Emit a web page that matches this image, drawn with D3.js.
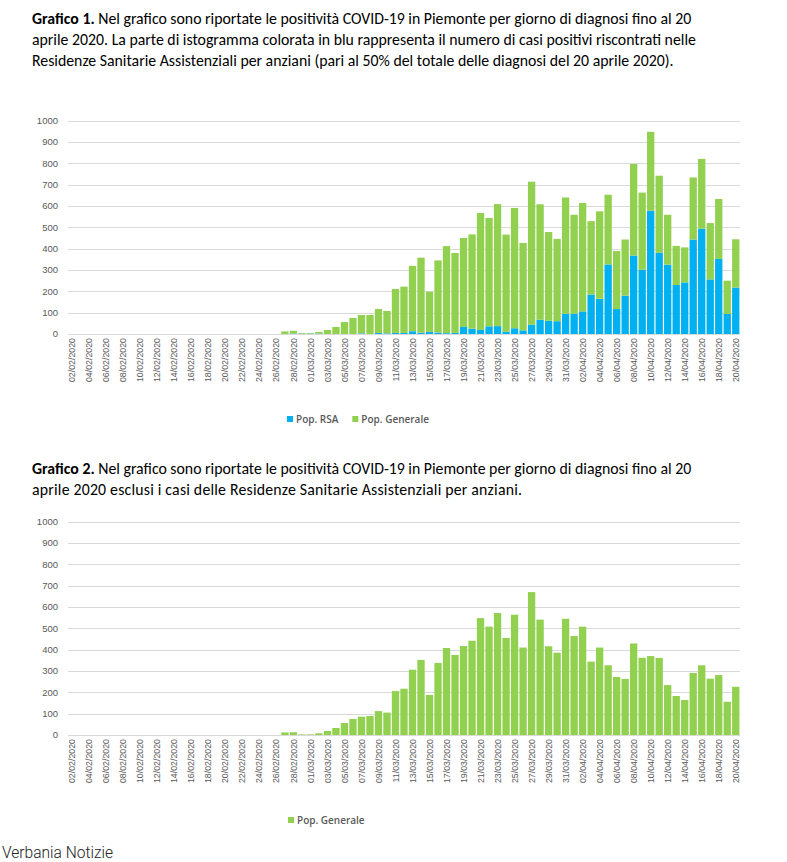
<!DOCTYPE html>
<html>
<head>
<meta charset="utf-8">
<script src="https://cdn.jsdelivr.net/npm/d3@7"></script>
<style>
  body { margin: 0; background: #fff; }
  svg { display: block; }
  .title { font-family: Carlito, Calibri, "Liberation Sans Narrow", "Open Sans", sans-serif; font-size: 15.8px; fill: #000; }
  .axis text { font-family: "Liberation Sans", Arial, sans-serif; fill: #595959; }
</style>
</head>
<body>
<div id="chart"></div>
<script>
// dates 02/02/2020 .. 20/04/2020
const dates = d3.timeDays(new Date(2020, 1, 2), new Date(2020, 3, 21));
const dateFmt = d3.timeFormat("%d/%m/%Y");

// cases in RSA (blue) per day, 02/02 .. 20/04
const popRSA = [
  0, 0, 0, 0, 0, 0, 0, 0, 0, 0, 0, 0, 0, 0, 0, 0, 0, 0, 0, 0, 0, 0, 0, 0, 0,
  0, 2, 2, 2, 2, 0, 0, 0, 0, 3, 0, 5, 3, 5, 5, 13, 6, 10, 7, 4, 5, 33, 25, 19, 36,
  37, 11, 27, 17, 44, 67, 62, 60, 95, 95, 106, 185, 165, 326, 117, 180, 368, 301, 578, 381,
  325, 230, 242, 443, 494, 256, 352, 94, 218
];

// general population cases (green) per day, 02/02 .. 20/04
const popGenerale = [
  0, 0, 0, 0, 0, 0, 0, 0, 0, 0, 0, 0, 0, 0, 0, 0, 0, 0, 0, 0, 0, 0, 0, 0, 0,
  12, 13, 3, 3, 8, 19, 33, 56, 75, 86, 89, 112, 105, 206, 217, 306, 352, 188, 338, 408, 375, 417, 442, 548, 508,
  572, 455, 564, 410, 670, 541, 416, 386, 545, 464, 508, 344, 410, 327, 272, 263, 429, 362, 370, 361,
  234, 183, 164, 291, 327, 264, 281, 156, 226
];

const yTicks = [0, 100, 200, 300, 400, 500, 600, 700, 800, 900, 1000];

const title1 = [
  [["Grafico 1.", true], [" Nel grafico sono riportate le positività COVID-19 in Piemonte per giorno di diagnosi fino al 20", false]],
  [["aprile 2020. La parte di istogramma colorata in blu rappresenta il numero di casi positivi riscontrati nelle", false]],
  [["Residenze Sanitarie Assistenziali per anziani (pari al 50% del totale delle diagnosi del 20 aprile 2020).", false]]
];
const title2 = [
  [["Grafico 2.", true], [" Nel grafico sono riportate le positività COVID-19 in Piemonte per giorno di diagnosi fino al 20", false]],
  [["aprile 2020 esclusi i casi delle Residenze Sanitarie Assistenziali per anziani.", false]]
];

const colors = { rsa: "#00b0f0", generale: "#92d050" };

const width = 787, height = 862;
const svg = d3.select("#chart").append("svg")
  .attr("width", width)
  .attr("height", height);

const table = dates.map((d, i) => ({ date: d, rsa: popRSA[i], generale: popGenerale[i] }));

const x = d3.scaleBand()
  .domain(dates.map(dateFmt))
  .range([68, 740])
  .paddingInner(0.14)
  .paddingOuter(0.07);

function drawTitle(lines, top, widths) {
  lines.forEach((parts, i) => {
    const t = svg.append("text")
      .attr("class", "title")
      .attr("x", 32)
      .attr("y", top + i * 21);
    if (widths && widths[i]) {
      t.attr("textLength", widths[i]).attr("lengthAdjust", "spacing");
    }
    parts.forEach(p => {
      t.append("tspan")
        .attr("font-weight", p[1] ? "bold" : null)
        .text(p[0]);
    });
  });
}

function drawChart(opts) {
  const y = d3.scaleLinear()
    .domain([0, 1000])
    .range([opts.bottom, opts.top]);

  const g = svg.append("g");

  // gridlines
  g.append("g")
    .selectAll("line")
    .data(yTicks)
    .join("line")
    .attr("x1", x.range()[0])
    .attr("x2", x.range()[1])
    .attr("y1", d => Math.round(y(d)) + 0.5)
    .attr("y2", d => Math.round(y(d)) + 0.5)
    .attr("stroke", "#d9d9d9")
    .attr("stroke-width", 1);

  // y labels
  g.append("g")
    .attr("class", "axis")
    .selectAll("text")
    .data(yTicks)
    .join("text")
    .attr("x", 58)
    .attr("y", d => y(d))
    .attr("dy", "0.35em")
    .attr("text-anchor", "end")
    .attr("font-size", 9.5)
    .text(d => d);

  const stack = d3.stack().keys(opts.keys)(table);

  g.append("g")
    .selectAll("g")
    .data(stack)
    .join("g")
    .attr("fill", d => colors[d.key])
    .selectAll("rect")
    .data(d => d)
    .join("rect")
    .attr("x", d => x(dateFmt(d.data.date)))
    .attr("width", x.bandwidth())
    .attr("y", d => y(d[1]))
    .attr("height", d => y(d[0]) - y(d[1]));

  // x labels, every second day
  const xAxis = d3.axisBottom(x)
    .tickValues(x.domain().filter((d, i) => i % 2 === 0))
    .tickSize(0)
    .tickPadding(0);

  g.append("g")
    .attr("class", "axis")
    .attr("transform", `translate(0, ${opts.bottom})`)
    .call(xAxis)
    .call(a => a.select(".domain").remove())
    .selectAll("text")
    .attr("font-size", 8.8)
    .attr("transform", "rotate(-90)")
    .attr("text-anchor", "end")
    .attr("x", -4)
    .attr("y", 0)
    .attr("dy", "0.35em");

  // legend
  const legend = g.append("g")
    .attr("transform", `translate(${opts.legendX}, ${opts.legendY})`);
  let lx = 0;
  opts.legend.forEach(item => {
    legend.append("rect")
      .attr("x", lx)
      .attr("y", -3)
      .attr("width", 6)
      .attr("height", 6)
      .attr("fill", colors[item.key]);
    const t = legend.append("text")
      .attr("x", lx + 9)
      .attr("y", 0)
      .attr("dy", "0.35em")
      .attr("font-family", "'Open Sans', sans-serif")
      .attr("font-size", 10)
      .attr("font-weight", 600)
      .attr("fill", "#595959")
      .text(item.label);
    lx += 9 + t.node().getComputedTextLength() + 14;
  });
}

drawTitle(title1, 24);
drawChart({
  top: 120.7, bottom: 334,
  keys: ["rsa", "generale"],
  legendX: 287, legendY: 419,
  legend: [{ key: "rsa", label: "Pop. RSA" }, { key: "generale", label: "Pop. Generale" }]
});

drawTitle(title2, 474, [null, 490]);
drawChart({
  top: 521.7, bottom: 735,
  keys: ["generale"],
  legendX: 288, legendY: 820,
  legend: [{ key: "generale", label: "Pop. Generale" }]
});

svg.append("text")
  .attr("x", 2)
  .attr("y", 858)
  .attr("font-family", "Roboto, sans-serif")
  .attr("font-weight", 300)
  .attr("font-size", 17)
  .attr("textLength", 111)
  .attr("lengthAdjust", "spacingAndGlyphs")
  .attr("fill", "#222")
  .text("Verbania Notizie");
</script>
</body>
</html>
